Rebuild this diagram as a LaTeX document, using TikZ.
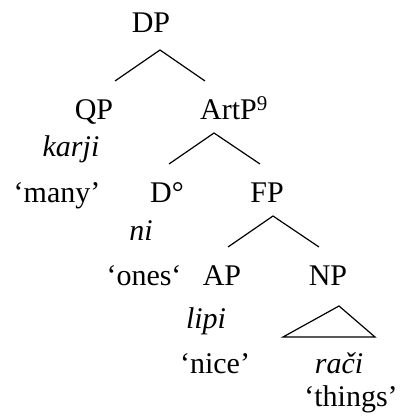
\documentclass[tikz,border=0pt]{standalone}
\usepackage{fontspec}
\setmainfont{Liberation Serif}
\begin{document}
\begin{tikzpicture}[x=1pt,y=-1pt,
  lbl/.style={inner sep=0pt,anchor=base,font=\fontsize{30}{36}\selectfont},
  lblw/.style={inner sep=0pt,anchor=base west,font=\fontsize{30}{36}\selectfont},
  branch/.style={line width=1.2pt,line join=miter}]
\useasboundingbox (0,0) rectangle (399,419);
% labels
\node[lbl] (dp) at (151,33) {DP};
\node[lbl] (qp) at (94,120) {QP};
\node[lblw] (artp) at (200,120) {ArtP\textsuperscript{9}};
\node[lbl] (karji) at (71,157) {\textit{karji}};
\node[lbl] (many) at (57,203) {‘many’};
\node[lblw] (d) at (150,203) {D°};
\node[lbl] (fp) at (267,203) {FP};
\node[lbl] (ni) at (141,240) {\textit{ni}};
\node[lbl] (ones) at (144,285) {‘ones‘};
\node[lbl] (ap) at (222,285) {AP};
\node[lbl] (np) at (328,285) {NP};
\node[lbl] (lipi) at (206,328) {\textit{lipi}};
\node[lbl] (nice) at (215,373) {‘nice’};
\node[lbl] (raci) at (339,373) {\textit{rači}};
\node[lbl] (things) at (351,406) {‘things’};
% branch points
\coordinate (dpA) at (160,50);
\coordinate (dpL) at (115,81);
\coordinate (dpR) at (205,81);
\coordinate (artA) at (214,133);
\coordinate (artL) at (169,164);
\coordinate (artR) at (260,164);
\coordinate (fpA) at (273,216);
\coordinate (fpL) at (228,247);
\coordinate (fpR) at (319,247);
\coordinate (npA) at (339,306);
\coordinate (npL) at (283,337);
\coordinate (npR) at (375,337);
% branches
\draw[branch] (dpL) -- (dpA) -- (dpR);
\draw[branch] (artL) -- (artA) -- (artR);
\draw[branch] (fpL) -- (fpA) -- (fpR);
\draw[branch] (npA) -- (npL) -- (npR) -- cycle;
\end{tikzpicture}
\end{document}
